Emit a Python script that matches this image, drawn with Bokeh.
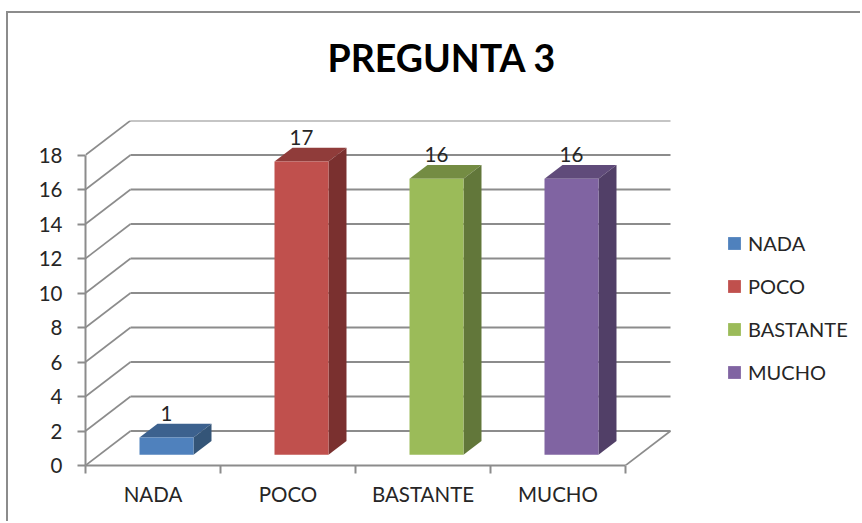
from bokeh.plotting import figure
from bokeh.models import (Range1d, FixedTicker, LinearAxis, Legend, LegendItem,
                          ColumnDataSource, Title)
from bokeh.core.properties import value
from bokeh.embed import file_html
from bokeh.resources import INLINE

title_text = "PREGUNTA 3"
categories = ["NADA", "POCO", "BASTANTE", "MUCHO"]
values = [1, 17, 16, 16]
y_ticks = [0, 2, 4, 6, 8, 10, 12, 14, 16, 18]
front_colors = ["#4F81BD", "#C0504D", "#9BBB59", "#8064A2"]
top_colors = ["#3C618E", "#903C3A", "#748C43", "#604B7A"]
side_colors = ["#345578", "#7A302F", "#62773A", "#513F67"]

FONT = "Lato"
INK = "#262626"
GREY = "#8C8C8C"

# 3D projection, in data units
WALL_DX, WALL_DY = 1 / 3, 2.0       # depth of the chart box
BAR_DX, BAR_DY = 0.1333, 0.80       # depth of one bar
BAR_X0, BAR_W, BAR_Y0 = 0.40, 0.40, 0.62
N = len(categories)

p = figure(width=854, height=510, output_backend="svg", toolbar_location=None,
           x_range=Range1d(0, 777 / 135), y_range=Range1d(0, y_ticks[-1] + WALL_DY),
           x_axis_type=None, y_axis_type=None,
           min_border_left=77, min_border_right=0, min_border_top=107, min_border_bottom=58)
p.grid.visible = False
p.outline_line_color = None
p.background_fill_color = "white"
p.styles = {"margin-left": "6px", "margin-top": "11px",
            "border-left": "2px solid #8C8C8C", "border-top": "2px solid #8C8C8C"}

# walls and floor
back_x = [[WALL_DX, N + WALL_DX] for _ in y_ticks]
back_y = [[t + WALL_DY, t + WALL_DY] for t in y_ticks]
side_x = [[0, WALL_DX] for _ in y_ticks] + [[N, N + WALL_DX]]
side_y = [[t, t + WALL_DY] for t in y_ticks] + [[0, WALL_DY]]
p.multi_line(back_x, back_y, line_color=GREY, line_width=2)
p.multi_line(side_x, side_y, line_color=GREY, line_width=1.6)

# bars
items = []
for i, (cat, v) in enumerate(zip(categories, values)):
    x0 = i + BAR_X0
    x1 = x0 + BAR_W
    y0 = BAR_Y0
    y1 = BAR_Y0 + v
    p.patch([x0, x1, x1 + BAR_DX, x0 + BAR_DX], [y1, y1, y1 + BAR_DY, y1 + BAR_DY],
            fill_color=top_colors[i], line_color=None)
    p.patch([x1, x1 + BAR_DX, x1 + BAR_DX, x1], [y0, y0 + BAR_DY, y1 + BAR_DY, y1],
            fill_color=side_colors[i], line_color=None)
    r = p.quad(left=[x0], right=[x1], bottom=[y0], top=[y1],
               fill_color=front_colors[i], line_color=None)
    items.append(LegendItem(label=cat, renderers=[r]))

# value labels
src = ColumnDataSource(dict(
    x=[i + BAR_X0 + BAR_W / 2 for i in range(N)],
    y=[BAR_Y0 + v + BAR_DY + 0.62 for v in values],
    t=[str(v) for v in values]))
p.text("x", "y", text="t", source=src, text_align="center", text_baseline="middle",
       text_font=value(FONT), text_font_size="20.5px", text_color=INK)

# axes
yax = LinearAxis(ticker=FixedTicker(ticks=y_ticks), bounds=(0, y_ticks[-1]))
yax.axis_line_color = GREY
yax.axis_line_width = 2
yax.major_tick_line_color = GREY
yax.major_tick_line_width = 2
yax.major_tick_in = 0
yax.major_tick_out = 8
yax.minor_tick_line_color = None
yax.major_label_text_font = FONT
yax.major_label_text_font_size = "20.5px"
yax.major_label_text_color = INK
yax.major_label_standoff = 15
p.add_layout(yax, "left")

xax = LinearAxis(ticker=FixedTicker(ticks=[i + 0.5 for i in range(N)],
                                    minor_ticks=list(range(N + 1))),
                 bounds=(0, N))
xax.major_label_overrides = {i + 0.5: c for i, c in enumerate(categories)}
xax.axis_line_color = GREY
xax.axis_line_width = 2
xax.major_tick_line_color = None
xax.major_tick_in = 0
xax.major_tick_out = 0
xax.minor_tick_line_color = GREY
xax.minor_tick_line_width = 2
xax.minor_tick_in = 0
xax.minor_tick_out = 8
xax.major_label_text_font = FONT
xax.major_label_text_font_size = "20.5px"
xax.major_label_text_color = INK
xax.major_label_standoff = 8
p.add_layout(xax, "below")

# title, lifted clear of the chart box by an empty spacer title
spacer = Title(text=" ", text_font_size="10px", standoff=28)
p.add_layout(spacer, "above")
t = Title(text=title_text, align="left", offset=242, standoff=0)
t.text_font = FONT
t.text_font_size = "37.5px"
t.text_font_style = "bold"
t.text_color = "#000000"
p.add_layout(t, "above")

# legend
leg = Legend(items=items, location=(641, 81), orientation="vertical")
leg.glyph_width = 16
leg.glyph_height = 16
leg.label_text_font = FONT
leg.label_text_font_size = "20px"
leg.label_text_color = INK
leg.label_standoff = 6
leg.label_height = 20
leg.spacing = 19
leg.padding = 0
leg.margin = 0
leg.border_line_color = None
leg.background_fill_color = None
p.add_layout(leg, "center")

open("out.html", "w").write(file_html(p, INLINE))
